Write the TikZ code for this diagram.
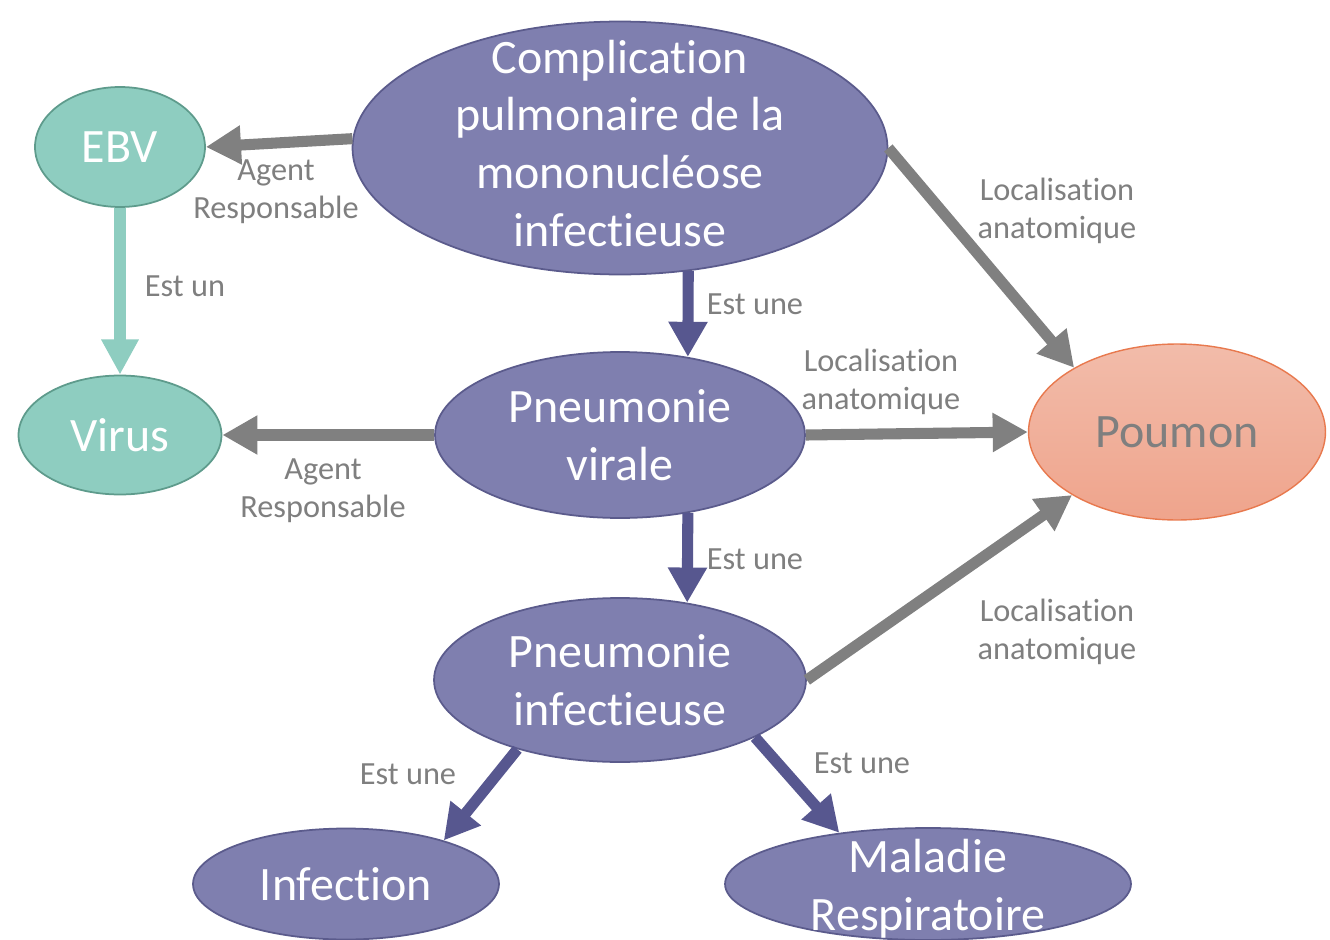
\documentclass[tikz,border=0pt]{standalone}
\usepackage{fontspec}
\setmainfont{Carlito}[Ligatures=NoCommon]
\usetikzlibrary{shapes.geometric,arrows.meta}

\definecolor{conceptfill}{HTML}{7F7FAF}
\definecolor{conceptline}{HTML}{5B5B8C}
\definecolor{tealfill}{HTML}{8ECDC0}
\definecolor{tealline}{HTML}{5E9B8C}
\definecolor{lungtop}{HTML}{F2BCAA}
\definecolor{lungbottom}{HTML}{EFA48C}
\definecolor{lungline}{HTML}{E8794E}
\definecolor{relgray}{HTML}{808080}
\definecolor{isagray}{HTML}{7F7F7F}
\definecolor{isaline}{HTML}{57578F}

\begin{document}
\begin{tikzpicture}[x=0.02cm,y=-0.02cm,
  concept/.style={ellipse,draw=conceptline,fill=conceptfill,line width=1pt,inner sep=0pt},
  agent/.style={ellipse,draw=tealline,fill=tealfill,line width=1pt,inner sep=0pt},
  organ/.style={ellipse,draw=lungline,top color=lungtop,bottom color=lungbottom,line width=0.8pt,inner sep=0pt},
  ctext/.style={text=white,align=center,inner sep=0pt,font=\fontsize{27.3}{32.8}\selectfont},
  rel/.style={text=isagray,align=center,inner sep=0pt,font=\fontsize{18.4}{21.6}\selectfont},
  hasagent/.style={draw=relgray,line width=6.3pt,-{Triangle[length=20pt,width=21pt]}},
  isa/.style={draw=isaline,line width=6.3pt,-{Triangle[length=20pt,width=21pt]}},
  isateal/.style={draw=tealfill,line width=7pt,-{Triangle[length=20pt,width=20pt]}}]
\useasboundingbox (0,0) rectangle (1330,940);

% concepts
\path
(620,148) node [concept,minimum width=10.7cm,minimum height=5.06cm,
  label={[ctext,yshift=2.8pt]center:Complication\\pulmonaire de la\\mononucléose\\infectieuse}] (main) {}
(120,147) node [agent,minimum width=3.4cm,minimum height=2.4cm,
  label={[ctext]center:EBV}] (ebv) {}
(120,435) node [agent,minimum width=4.06cm,minimum height=2.38cm,
  label={[ctext]center:Virus}] (virus) {}
(620,435) node [concept,minimum width=7.4cm,minimum height=3.32cm,
  label={[ctext]center:Pneumonie\\virale}] (pv) {}
(1177,432) node [organ,minimum width=5.94cm,minimum height=3.52cm,
  label={[ctext,text=isagray]center:Poumon}] (poumon) {}
(620,680) node [concept,minimum width=7.44cm,minimum height=3.28cm,
  label={[ctext]center:Pneumonie\\infectieuse}] (pi) {}
(346,884) node [concept,minimum width=6.12cm,minimum height=2.22cm,
  label={[ctext]center:Infection}] (infection) {}
(928,884) node [concept,minimum width=8.12cm,minimum height=2.24cm,
  label={[ctext,yshift=-2.6pt]center:Maladie\\Respiratoire}] (maladie) {}
;

% relations
\draw[hasagent] (main.178) -- (ebv.east);
\draw[isateal] (ebv) -- (virus);
\draw[hasagent] (main.east) -- (poumon.148.6);
\draw[isa] (main.-61.7) -- (pv.49.6);
\draw[hasagent] (pv.west) -- (virus.east);
\draw[hasagent] (pv.east) -- (poumon.west);
\draw[isa] (pv.-49.6) -- (pi.49.3);
\draw[hasagent] (pi.east) -- (poumon.211.4);
\draw[isa] (pi.214.5) -- (infection.24.9);
\draw[isa] (pi.-23.7) -- (maladie.150);

\path
(276,192) node [rel] (lagent1) {Agent\\Responsable}
(185,286) node [rel] (lestun) {Est un}
(1057,211) node [rel] (lloc1) {Localisation\\anatomique}
(755,304) node [rel] (lestune1) {Est une}
(323,491) node [rel] (lagent2) {Agent\\Responsable}
(881,382) node [rel] (lloc2) {Localisation\\anatomique}
(755,559) node [rel] (lestune2) {Est une}
(1057,632) node [rel] (lloc3) {Localisation\\anatomique}
(408,774) node [rel] (lestune3) {Est une}
(862,763) node [rel] (lestune4) {Est une}
;
\end{tikzpicture}
\end{document}
